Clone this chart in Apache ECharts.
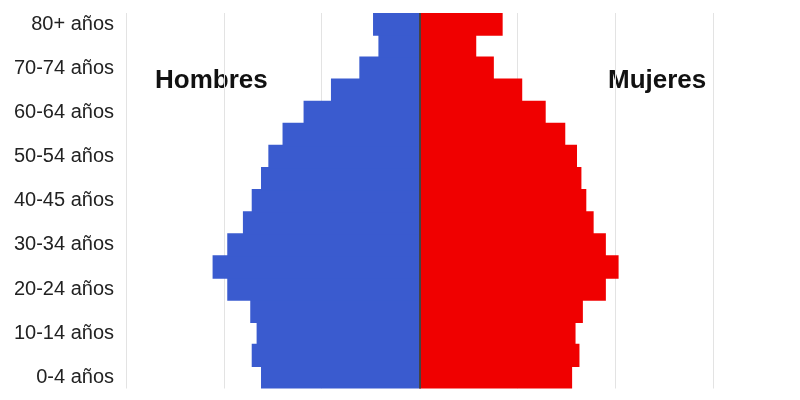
<!DOCTYPE html>
<html lang="es">
  <head>
    <meta charset="UTF-8" />
    <title>Pirámide de población</title>
    <style>
      html, body { margin: 0; padding: 0; background: #fff; }
      #main { width: 800px; height: 400px; }
    </style>
  </head>
  <body>
    <div id="main"></div>
    <script src="https://cdn.jsdelivr.net/npm/echarts@6/dist/echarts.min.js"></script>
    <script>
      // grupos de edad, de abajo hacia arriba
      var ages = [
        "0-4 años", "5-9 años", "10-14 años", "15-19 años", "20-24 años",
        "25-29 años", "30-34 años", "35-39 años", "40-45 años", "45-49 años",
        "50-54 años", "55-59 años", "60-64 años", "65-69 años", "70-74 años",
        "75-79 años", "80+ años"
      ];
      // % de la población
      var hombres = [3.24, 3.43, 3.33, 3.46, 3.93, 4.23, 3.93, 3.61, 3.43, 3.24,
                     3.09, 2.80, 2.37, 1.81, 1.23, 0.84, 0.95];
      var mujeres = [3.12, 3.27, 3.19, 3.34, 3.81, 4.07, 3.81, 3.56, 3.41, 3.31,
                     3.22, 2.98, 2.58, 2.10, 1.52, 1.16, 1.70];

      var azul = "#3a5bcf";
      var rojo = "#f00000";

      var myChart = echarts.init(document.getElementById("main"));

      var option = {
        animation: false,
        grid: { left: 126, right: 87, top: 13, bottom: 11.5, containLabel: false },
        xAxis: {
          type: "value",
          min: -6,
          max: 6,
          interval: 2,
          axisLine: { show: false },
          axisTick: { show: false },
          axisLabel: { show: false },
          splitLine: { lineStyle: { color: "#e3e3e3", width: 1 } },
        },
        yAxis: {
          type: "category",
          data: ages,
          axisLine: { show: false },
          axisTick: { show: false },
          axisLabel: {
            interval: 1,
            margin: 12,
            color: "#222",
            fontSize: 20,
            fontFamily: "Liberation Sans, Arial, sans-serif",
          },
        },
        series: [
          {
            name: "Hombres",
            type: "bar",
            stack: "total",
            // un poco más ancho que la categoría para que no queden rayas
            barWidth: "106%",
            itemStyle: { color: azul },
            data: hombres.map(function (v) { return -v; }),
            markLine: {
              silent: true,
              symbol: "none",
              z: 20,
              label: { show: false },
              lineStyle: { color: "#444", width: 2, type: "solid" },
              data: [{ xAxis: 0 }],
            },
          },
          {
            name: "Mujeres",
            type: "bar",
            stack: "total",
            barWidth: "106%",
            itemStyle: { color: rojo },
            data: mujeres,
          },
        ],
        graphic: [
          {
            type: "text",
            left: 155,
            top: 68,
            style: {
              text: "Hombres",
              fill: "#111",
              font: "bold 26px Liberation Sans, Arial, sans-serif",
            },
          },
          {
            type: "text",
            left: 608,
            top: 68,
            style: {
              text: "Mujeres",
              fill: "#111",
              font: "bold 26px Liberation Sans, Arial, sans-serif",
            },
          },
        ],
      };

      myChart.setOption(option);
    </script>
  </body>
</html>
